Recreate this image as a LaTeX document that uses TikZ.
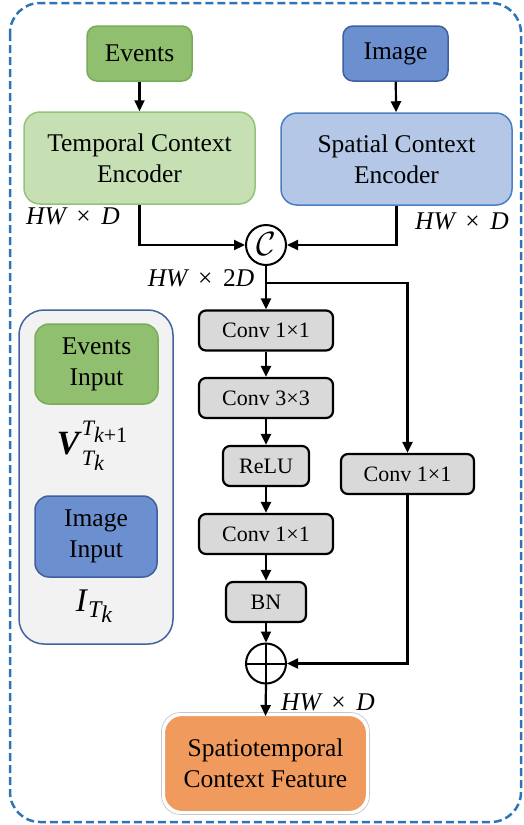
\documentclass[tikz,border=0pt]{standalone}
\usepackage{graphicx}
\usepackage{fontspec}
\setmainfont{Liberation Serif}
\usetikzlibrary{arrows.meta}
\definecolor{evfill}{HTML}{8FBF6F}
\definecolor{evdraw}{HTML}{79AC58}
\definecolor{imfill}{HTML}{6C8FD0}
\definecolor{imdraw}{HTML}{3F5F9E}
\definecolor{tcfill}{HTML}{C6E0B4}
\definecolor{tcdraw}{HTML}{93C47A}
\definecolor{scfill}{HTML}{B4C7E7}
\definecolor{scdraw}{HTML}{4A80C2}
\definecolor{boxgray}{HTML}{D9D9D9}
\definecolor{panelfill}{HTML}{F2F2F2}
\definecolor{paneldraw}{HTML}{41639F}
\definecolor{outfill}{HTML}{F09A5E}
\definecolor{frame}{HTML}{2E75B6}
\newcommand{\scrfont}{\fontsize{22}{23}\selectfont}
\begin{document}
\begin{tikzpicture}[x=1pt,y=-1pt,
  font=\fontsize{25.5}{31}\selectfont,
  box/.style={rounded corners=10pt, align=center, inner sep=0pt, line width=1.5pt},
  evbox/.style={box, fill=evfill, draw=evdraw},
  imbox/.style={box, fill=imfill, draw=imdraw},
  gbox/.style={draw=black, line width=2.2pt, fill=boxgray, rounded corners=7pt, inner sep=0pt, minimum height=40pt, font=\fontsize{22}{26}\selectfont},
  arr/.style={-{Triangle[length=11pt,width=10pt]}, line width=2.2pt},
  lbl/.style={font=\fontsize{25.5}{30}\selectfont\itshape, inner sep=0pt},
  opcirc/.style={circle, draw, line width=2pt, minimum size=40pt, inner sep=0pt}
]
\useasboundingbox (0,0) rectangle (524,825);
\draw[frame, line width=2.5pt, dash pattern=on 8pt off 4pt, rounded corners=30pt] (10,3) rectangle (521,822);

% top inputs
\node[evbox, minimum width=105pt, minimum height=55pt] (ev) at (139.5,53.5) {Events};
\node[imbox, minimum width=105pt, minimum height=55pt] (im) at (395.5,53.5) {Image};
\node[box, fill=tcfill, draw=tcdraw, rounded corners=16pt, minimum width=231pt, minimum height=92pt] (tce) at (139.5,158) {Temporal Context\\Encoder};
\node[box, fill=scfill, draw=scdraw, rounded corners=16pt, minimum width=231pt, minimum height=92pt] (sce) at (396.5,159) {Spatial Context\\Encoder};
\node[opcirc] (cat) at (266,245) {\raisebox{1pt}{\scalebox{1.35}{\fontsize{24.88}{26}\selectfont$\mathcal{C}$}}};

\node[lbl] (l1) at (73,216) {HW\, \upshape×\itshape\, D};
\node[lbl] (l2) at (462,221) {HW\, \upshape×\itshape\, D};
\node[lbl] (l3) at (201,278) {HW\, \upshape×\itshape\, \upshape2\itshape D};
\coordinate (br) at (407.5,283);

% main branch
\node[gbox, minimum width=134pt] (c1) at (266,330.5) {Conv 1×1};
\node[gbox, minimum width=134pt] (c2) at (266,398) {Conv 3×3};
\node[gbox, minimum width=86pt] (relu) at (266,466) {ReLU};
\node[gbox, minimum width=134pt] (c3) at (266,534) {Conv 1×1};
\node[gbox, minimum width=80pt] (bn) at (266,602) {BN};
\node[gbox, minimum width=133pt] (cr) at (407.5,474) {Conv 1×1};
\node[opcirc] (plus) at (266,663.5) {};
\draw[line width=2pt] (plus.north) -- (plus.south) (plus.west) -- (plus.east);
\node[lbl] (l4) at (328,702) {HW\, \upshape×\itshape\, D};

\node[box, fill=outfill, draw=white, line width=2pt, rounded corners=18pt, minimum width=203pt, minimum height=97pt] (out) at (265.5,763.5) {Spatiotemporal\\Context Feature};
\draw[black!22, line width=0.7pt, rounded corners=19pt] ([shift={(-1.5,-1.5)}]out.north west) rectangle ([shift={(1.5,1.5)}]out.south east);

% legend panel
\node[draw=paneldraw, fill=panelfill, line width=1.5pt, rounded corners=25pt, minimum width=154pt, minimum height=334pt, inner sep=0pt] (panel) at (96,477) {};
\node[evbox, rounded corners=14pt, minimum width=123pt, minimum height=80pt] (evin) at (96.5,364) {Events\\Input};
\node[imbox, rounded corners=14pt, minimum width=122pt, minimum height=81pt] (imin) at (96,536.5) {Image\\Input};
\node[inner sep=0pt, font=\fontsize{34}{36}\selectfont] (vlab) at (92,446) {\textbf{\textit{V}}\rlap{\raisebox{19pt}{\scrfont\itshape T\raisebox{-7pt}{k\upshape{}+1}}}\raisebox{-11pt}{\scrfont\itshape T\raisebox{-5pt}{k}}\hphantom{\scrfont +1}};
\node[inner sep=0pt, font=\fontsize{33}{36}\selectfont] (ilab) at (94,606.5) {\textit{I}\raisebox{-6pt}{\fontsize{24}{25}\selectfont\itshape T\raisebox{-5pt}{k}}};

% connectors
\draw[arr] (ev) -- (tce);
\draw[arr] (im) -- (sce);
\draw[arr] (tce.south) |- (cat.west);
\draw[arr] (sce.south) |- (cat.east);
\draw[arr] (cat.south) -- (c1.north);
\draw[arr] (cat.south |- br) -| (cr.north);
\draw[arr] (c1) -- (c2);
\draw[arr] (c2) -- (relu);
\draw[arr] (relu) -- (c3);
\draw[arr] (c3) -- (bn);
\draw[arr] (bn) -- (plus);
\draw[arr] (cr.south) |- (plus.east);
\draw[arr] (plus.south) -- ([yshift=-2pt]out.north);
\end{tikzpicture}
\end{document}
